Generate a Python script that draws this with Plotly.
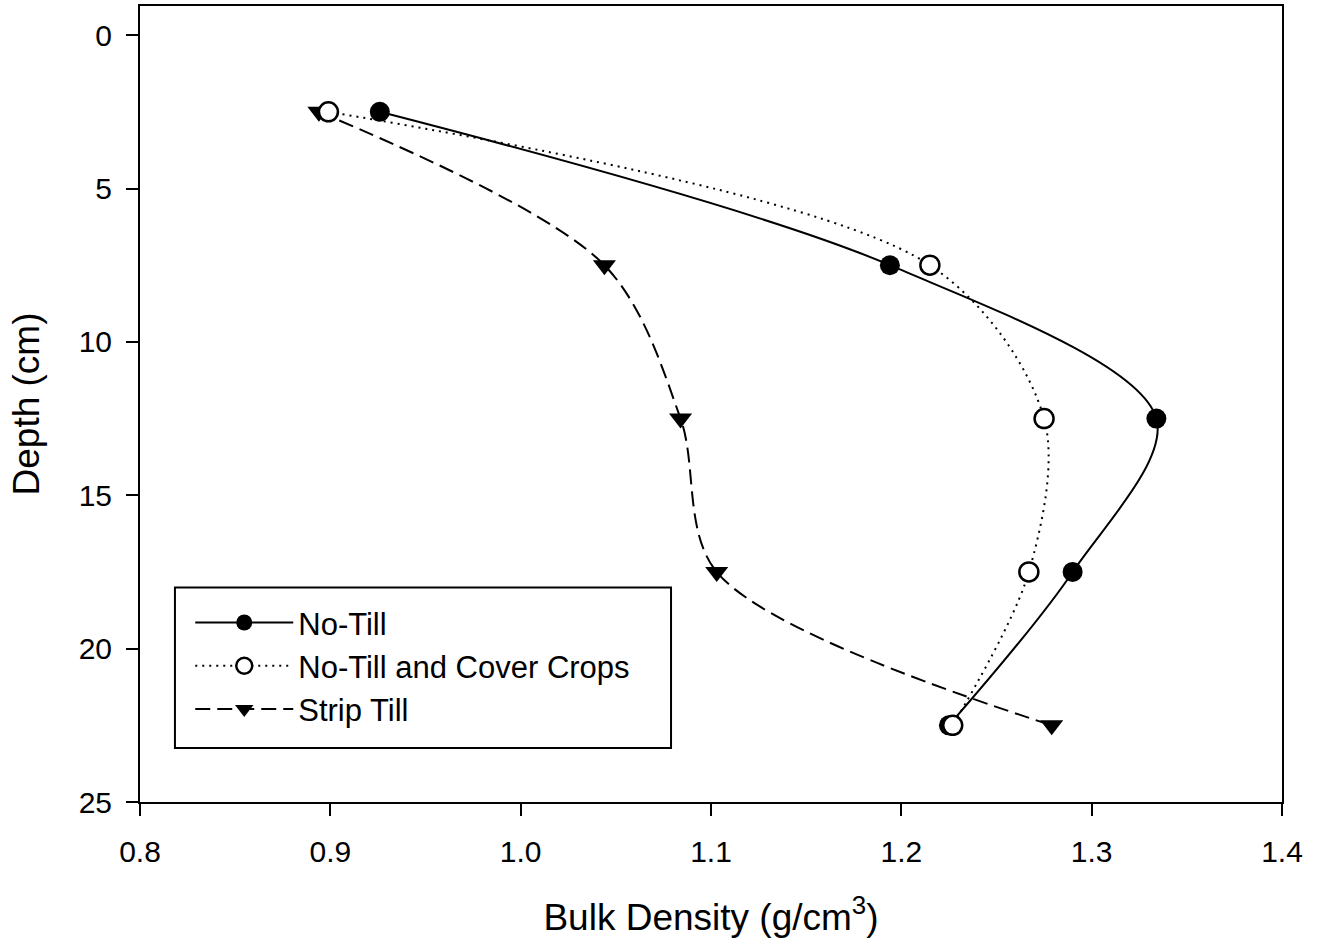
import plotly.graph_objects as go

depth = [2.5, 7.5, 12.5, 17.5, 22.5]
no_till = [0.926, 1.194, 1.334, 1.290, 1.225]
nt_cover = [0.899, 1.215, 1.275, 1.267, 1.227]
strip_till = [0.894, 1.044, 1.084, 1.103, 1.279]

x_ticks = [0.8, 0.9, 1.0, 1.1, 1.2, 1.3, 1.4]
x_tick_labels = ["0.8", "0.9", "1.0", "1.1", "1.2", "1.3", "1.4"]
y_ticks = [0, 5, 10, 15, 20, 25]

FONT = "Liberation Sans, Arial, sans-serif"

fig = go.Figure()
fig.add_trace(go.Scatter(
    x=no_till, y=depth, name="No-Till", mode="lines+markers",
    line=dict(color="black", width=2, shape="spline", smoothing=0.9),
    marker=dict(symbol="circle", size=20, color="black"),
    legendrank=1,
))
fig.add_trace(go.Scatter(
    x=strip_till, y=depth, name="Strip Till", mode="lines+markers",
    line=dict(color="black", width=2, shape="spline", smoothing=0.9, dash="15px,7px"),
    marker=dict(symbol="triangle-down", size=20, color="black"),
    legendrank=3,
))
fig.add_trace(go.Scatter(
    x=nt_cover, y=depth, name="No-Till and Cover Crops", mode="lines+markers",
    line=dict(color="black", width=2, shape="spline", smoothing=0.9, dash="2px,5px"),
    marker=dict(symbol="circle", size=19, color="white", line=dict(color="black", width=2.5)),
    legendrank=2,
))

# legend frame
fig.add_shape(type="rect", xref="paper", yref="paper",
              x0=0.0306, x1=0.465, y0=0.0677, y1=0.2694,
              line=dict(color="black", width=2), fillcolor="white", layer="above")

fig.update_layout(
    width=1324, height=947,
    margin=dict(l=140, r=42, t=4, b=145),
    paper_bgcolor="white", plot_bgcolor="white",
    font=dict(family=FONT, size=30, color="black"),
    showlegend=True,
    legend=dict(
        x=0.044, y=0.259, xanchor="left", yanchor="top",
        borderwidth=0, bgcolor="rgba(0,0,0,0)",
        font=dict(size=31, family=FONT), tracegroupgap=0,
        itemwidth=98,
    ),
    xaxis=dict(
        range=[0.8, 1.4], tickvals=x_ticks, ticktext=x_tick_labels,
        ticks="outside", ticklen=12, tickwidth=2, tickcolor="black",
        showline=True, linewidth=2, linecolor="black", mirror=True,
        showgrid=False, zeroline=False, ticklabelstandoff=10,
        tickfont=dict(size=30, family=FONT),
        title=dict(text="Bulk Density (g/cm<sup>3</sup>)", font=dict(size=37, family=FONT), standoff=37),
    ),
    yaxis=dict(
        range=[25, -0.95], tickvals=y_ticks,
        ticks="outside", ticklen=12, tickwidth=2, tickcolor="black",
        showline=True, linewidth=2, linecolor="black", mirror=True,
        showgrid=False, zeroline=False, ticklabelstandoff=8,
        tickfont=dict(size=30, family=FONT),
        title=dict(text="Depth (cm)", font=dict(size=37, family=FONT), standoff=28),
    ),
)

fig.write_html("out.html")
